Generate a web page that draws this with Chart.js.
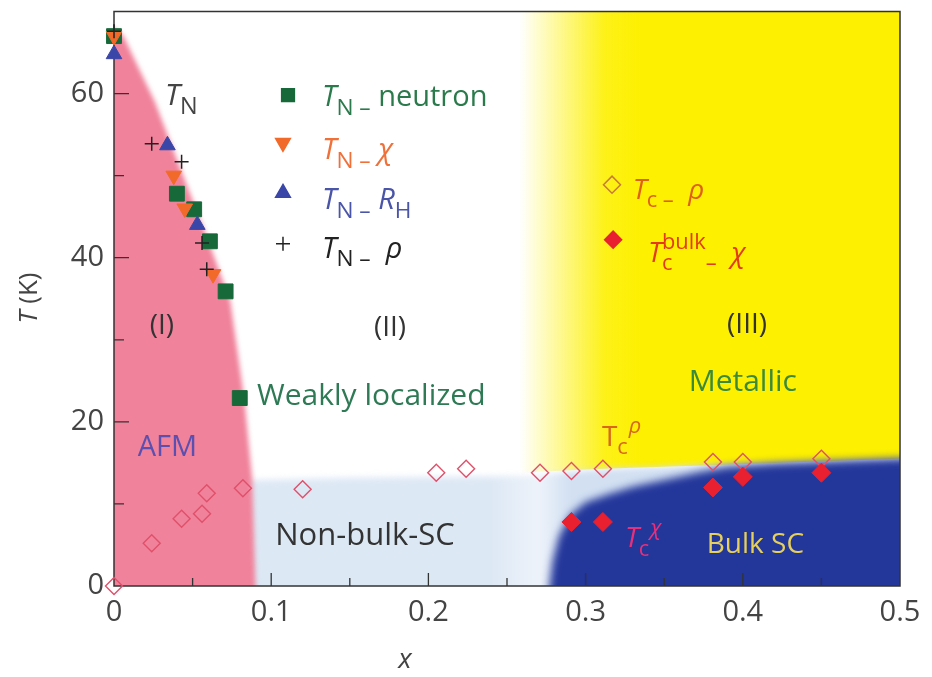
<!DOCTYPE html>
<html>
<head>
<meta charset="utf-8">
<script src="https://cdn.jsdelivr.net/npm/chart.js@4.4.1/dist/chart.umd.min.js"></script>
<style>
  html, body { margin: 0; padding: 0; background: #fff; }
  canvas { display: block; }
</style>
</head>
<body>
<canvas id="phase" width="932" height="677"></canvas>
<script>
// axis tick labels
const xTickLabels = [0, 0.1, 0.2, 0.3, 0.4, 0.5];
const yTickLabels = [0, 20, 40, 60];

// T_N - neutron (green squares)
const neutronX = [0, 0.04, 0.051, 0.061, 0.071, 0.08];
const neutronT = [67, 47.8, 45.9, 42, 35.9, 22.9];
// T_N - chi (orange down triangles)
const chiX = [0, 0.038, 0.045, 0.063];
const chiT = [67, 50, 46, 38];
// T_N - R_H (blue triangles)
const hallX = [0, 0.034, 0.053];
const hallT = [64.8, 53.7, 44];
// T_N - rho (black crosses)
const rhoNX = [0, 0.024, 0.043, 0.056, 0.059];
const rhoNT = [67.6, 53.9, 51.7, 41.8, 38.6];
// Tc - rho (open diamonds)
const tcRhoX = [0, 0.024, 0.043, 0.056, 0.059, 0.082, 0.12, 0.205, 0.224, 0.271, 0.291, 0.311, 0.381, 0.4, 0.45];
const tcRhoT = [0, 5.2, 8.2, 8.8, 11.3, 11.9, 11.8, 13.8, 14.3, 13.8, 14, 14.3, 15.1, 15.1, 15.5];
// Tc bulk - chi (filled diamonds)
const tcBulkX = [0.291, 0.311, 0.381, 0.4, 0.45];
const tcBulkT = [7.8, 7.8, 12, 13.3, 13.8];

// phase boundaries
const afmEdgeX = [0, 0.006, 0.016, 0.026, 0.038, 0.05, 0.062, 0.074, 0.083, 0.088, 0.09];
const afmEdgeT = [68, 67, 63, 59, 53, 47, 41, 34.7, 22.6, 12.9, 0];
const nonBulkEdgeX = [0.085, 0.15, 0.26, 0.31, 0.38, 0.5];
const nonBulkEdgeT = [12.9, 13.2, 13.4, 14.2, 14.7, 15.3];
const bulkEdgeX = [0.277, 0.279, 0.283, 0.29, 0.3, 0.315, 0.33, 0.352, 0.373, 0.39, 0.42, 0.46, 0.5];
const bulkEdgeT = [0, 3, 6, 8.6, 10.2, 11.2, 12.1, 13, 13.9, 14.5, 14.9, 15.2, 15.5];
const metalEdgeX = [0.258, 0.3, 0.33, 0.38, 0.42, 0.5];
const metalEdgeT = [13.8, 14.2, 14.4, 14.7, 15, 15.5];

const FONT = '"Open Sans", "DejaVu Sans", sans-serif';
const pts = (xs, ts) => xs.map((v, i) => ({ x: v, y: ts[i] }));

// text pieces: s = string, i = italic, sub / sup, k = keep x (no advance)
const notes = [
  { x: 0.0325, t: 58.6, c: '#444', f: 30, p: [{ s: 'T', i: 1 }, { s: 'N', sub: 1 }] },
  { x: 0.1323, t: 58.5, c: '#2b7a4b', f: 29, p: [{ s: 'T', i: 1 }, { s: 'N \u2013', sub: 1 }, { s: ' neutron' }] },
  { x: 0.1323, t: 52.0, c: '#f0703a', f: 29, p: [{ s: 'T', i: 1 }, { s: 'N \u2013', sub: 1 }, { s: ' \u03c7', i: 1 }] },
  { x: 0.1323, t: 45.9, c: '#4a55a8', f: 29, p: [{ s: 'T', i: 1 }, { s: 'N \u2013', sub: 1 }, { s: ' R', i: 1 }, { s: 'H', sub: 1 }] },
  { x: 0.1323, t: 40.0, c: '#222', f: 29, p: [{ s: 'T', i: 1 }, { s: 'N \u2013', sub: 1 }, { s: '  \u03c1', i: 1 }] },
  { x: 0.330, t: 47.2, c: '#e0601a', f: 28, p: [{ s: 'T', i: 1 }, { s: 'c \u2013', sub: 1 }, { s: '  \u03c1', i: 1 }] },
  { x: 0.3397, t: 39.5, c: '#e33a1a', f: 28, p: [{ s: 'T', i: 1 }, { s: 'c', sub: 1, k: 1 }, { s: 'bulk', sup: 1 }, { s: '\u2013', sub: 1 }, { s: '  \u03c7', i: 1 }] },
  { x: 0.3104, t: 17.1, c: '#d9661a', f: 28, p: [{ s: 'T' }, { s: 'c', sub: 1, k: 1 }, { s: '  \u03c1', i: 1, sup: 1 }] },
  { x: 0.325, t: 4.7, c: '#e8307a', f: 28, p: [{ s: 'T', i: 1 }, { s: 'c', sub: 1, k: 1 }, { s: '  \u03c7', i: 1, sup: 1 }] },
  { x: 0.0305, t: 30.7, c: '#333', f: 28, a: 'center', p: [{ s: '(I)' }] },
  { x: 0.1756, t: 30.5, c: '#333', f: 28, a: 'center', p: [{ s: '(II)' }] },
  { x: 0.4027, t: 30.8, c: '#333', f: 28, a: 'center', p: [{ s: '(III)' }] },
  { x: 0.400, t: 23.8, c: '#3a8a3a', f: 30, a: 'center', p: [{ s: 'Metallic' }] },
  { x: 0.091, t: 22.1, c: '#2e7a55', f: 30, p: [{ s: 'Weakly localized' }] },
  { x: 0.034, t: 15.9, c: '#5b50b0', f: 29, a: 'center', p: [{ s: 'AFM' }] },
  { x: 0.1597, t: 5.0, c: '#333', f: 31, a: 'center', p: [{ s: 'Non-bulk-SC' }] },
  { x: 0.408, t: 4.0, c: '#e6cf5a', f: 28, a: 'center', p: [{ s: 'Bulk SC' }] },
];

// in-plot legend markers: [x, T, style, color, filled, rotation]
const keyMarks = [
  [0.1107, 59.8, 'rect', '#17693a', true, 0],
  [0.1075, 54.0, 'triangle', '#f26a2a', true, 180],
  [0.1075, 47.9, 'triangle', '#3a46a8', true, 0],
  [0.1075, 41.7, 'cross', '#222', false, 0],
  [0.3168, 48.9, 'rectRot', '#c87a3a', false, 0],
  [0.3175, 42.2, 'rectRot', '#e82030', true, 0],
];

const font = (f, it) => `${it ? 'italic ' : ''}${f}px ${FONT}`;

const drawNote = (ctx, px, py, n) => {
  const pieces = n.p.map((q) => {
    const size = q.sub || q.sup ? n.f * 0.78 : n.f;
    ctx.font = font(size, q.i);
    return { ...q, size, w: ctx.measureText(q.s).width };
  });
  let cx = px;
  if (n.a === 'center') {
    cx -= pieces.reduce((s, q) => s + (q.k ? 0 : q.w), 0) / 2;
  }
  ctx.fillStyle = n.c;
  ctx.textBaseline = 'alphabetic';
  ctx.textAlign = 'left';
  pieces.forEach((q) => {
    const dy = q.sub ? n.f * 0.3 : q.sup ? -n.f * 0.45 : 0;
    ctx.font = font(q.size, q.i);
    ctx.fillText(q.s, cx, py + dy);
    if (!q.k) cx += q.w;
  });
};

// continue the current path along a boundary
const tracePoly = (ctx, x, y, xs, ts) => {
  xs.forEach((v, i) => ctx.lineTo(x.getPixelForValue(v), y.getPixelForValue(ts[i])));
};

const regions = {
  id: 'regions',
  beforeDraw(chart) {
    const { ctx, chartArea: a, scales: { x, y } } = chart;
    const X = (v) => x.getPixelForValue(v);
    const Y = (v) => y.getPixelForValue(v);
    ctx.save();
    ctx.beginPath();
    ctx.rect(a.left, a.top, a.width, a.height);
    ctx.clip();

    // metallic (yellow) with soft left edge
    const g = ctx.createLinearGradient(X(0.258), 0, X(0.335), 0);
    g.addColorStop(0, 'rgba(253,240,0,0)');
    g.addColorStop(0.35, 'rgba(253,240,0,0.45)');
    g.addColorStop(0.7, 'rgba(253,240,0,0.9)');
    g.addColorStop(1, 'rgb(253,240,0)');
    ctx.fillStyle = g;
    ctx.beginPath();
    ctx.moveTo(X(0.258), a.top);
    tracePoly(ctx, x, y, metalEdgeX, metalEdgeT);
    ctx.lineTo(X(0.5), a.top);
    ctx.closePath();
    ctx.fill();

    // non-bulk SC (light blue)
    ctx.filter = 'blur(3px)';
    const lb = ctx.createLinearGradient(X(0.24), 0, X(0.29), 0);
    lb.addColorStop(0, '#dde8f5');
    lb.addColorStop(0.6, '#eef3fa');
    lb.addColorStop(1, '#d2e0f2');
    ctx.fillStyle = lb;
    ctx.beginPath();
    ctx.moveTo(X(0.085), Y(-2));
    tracePoly(ctx, x, y, nonBulkEdgeX, nonBulkEdgeT);
    ctx.lineTo(X(0.52), Y(15.3));
    ctx.lineTo(X(0.52), Y(-2));
    ctx.closePath();
    ctx.fill();

    // bulk SC (dark blue)
    ctx.filter = 'blur(4px)';
    ctx.fillStyle = '#23369a';
    ctx.beginPath();
    ctx.moveTo(X(0.277), Y(-3));
    tracePoly(ctx, x, y, bulkEdgeX, bulkEdgeT);
    ctx.lineTo(X(0.53), Y(15.5));
    ctx.lineTo(X(0.53), Y(-3));
    ctx.closePath();
    ctx.fill();

    // AFM (pink)
    ctx.filter = 'blur(2.5px)';
    ctx.fillStyle = '#f0829b';
    ctx.beginPath();
    ctx.moveTo(X(-0.02), Y(68));
    tracePoly(ctx, x, y, afmEdgeX, afmEdgeT);
    ctx.lineTo(X(0.09), Y(-3));
    ctx.lineTo(X(-0.02), Y(-3));
    ctx.closePath();
    ctx.fill();
    ctx.filter = 'none';
    ctx.restore();
  },
  beforeDatasetsDraw(chart) {
    const { ctx, chartArea: a, scales: { x, y } } = chart;
    ctx.save();
    ctx.strokeStyle = '#333';
    ctx.lineWidth = 1.5;
    ctx.strokeRect(a.left, a.top, a.width, a.height);
    // inward ticks
    ctx.lineWidth = 1.3;
    ctx.beginPath();
    for (let v = 10; v < 70; v += 10) {
      const py = y.getPixelForValue(v);
      ctx.moveTo(a.left, py);
      ctx.lineTo(a.left + (v % 20 === 0 ? 15 : 10), py);
    }
    for (let k = 1; k < 10; k++) {
      const px = x.getPixelForValue(k * 0.05);
      ctx.moveTo(px, a.bottom);
      ctx.lineTo(px, a.bottom - (k % 2 === 0 ? 13 : 8));
    }
    ctx.stroke();
    ctx.restore();
  },
  afterDatasetsDraw(chart) {
    const { ctx, scales: { x, y } } = chart;
    ctx.save();
    keyMarks.forEach(([mx, mt, style, color, filled, rot]) => {
      ctx.fillStyle = filled ? color : 'rgba(0,0,0,0)';
      ctx.strokeStyle = color;
      ctx.lineWidth = 1.5;
      const r = style === 'rect' ? 9 : style === 'cross' ? 7 : 8.5;
      Chart.helpers.drawPoint(ctx, { pointStyle: style, rotation: rot, radius: r, borderWidth: 1.5 },
        x.getPixelForValue(mx), y.getPixelForValue(mt));
    });
    notes.forEach((n) => drawNote(ctx, x.getPixelForValue(n.x), y.getPixelForValue(n.t), n));

    // axis titles
    ctx.fillStyle = '#444';
    ctx.textBaseline = 'middle';
    ctx.textAlign = 'center';
    ctx.font = font(28, true);
    ctx.fillText('x', 405, 660);
    ctx.save();
    ctx.translate(30, 298);
    ctx.rotate(-Math.PI / 2);
    ctx.font = font(26, true);
    const tw = ctx.measureText('T').width;
    ctx.font = font(26, false);
    const kw = ctx.measureText(' (K)').width;
    ctx.textAlign = 'left';
    ctx.font = font(26, true);
    ctx.fillText('T', -(tw + kw) / 2, 0);
    ctx.font = font(26, false);
    ctx.fillText(' (K)', -(tw + kw) / 2 + tw, 0);
    ctx.restore();
    ctx.restore();
  },
};

const tickFont = { family: FONT, size: 29 };

const config = {
  type: 'scatter',
  data: {
    datasets: [
      { label: 'TN - rho', data: pts(rhoNX, rhoNT), pointStyle: 'cross', pointRadius: 7, borderColor: '#222', borderWidth: 1.5, order: 0 },
      { label: 'TN - RH', data: pts(hallX, hallT), pointStyle: 'triangle', pointRadius: 9, backgroundColor: '#3a46a8', borderColor: '#3a46a8', borderWidth: 1, order: 1 },
      { label: 'TN - chi', data: pts(chiX, chiT), pointStyle: 'triangle', rotation: 180, pointRadius: 9, backgroundColor: '#f26a2a', borderColor: '#f26a2a', borderWidth: 1, order: 2 },
      { label: 'TN - neutron', data: pts(neutronX, neutronT), pointStyle: 'rect', pointRadius: 10.5, backgroundColor: '#17693a', borderColor: '#17693a', borderWidth: 1, order: 3 },
      { label: 'Tc bulk - chi', data: pts(tcBulkX, tcBulkT), pointStyle: 'rectRot', pointRadius: 9.5, backgroundColor: '#e82030', borderColor: '#e82030', borderWidth: 1, order: 4 },
      { label: 'Tc - rho', data: pts(tcRhoX, tcRhoT), pointStyle: 'rectRot', pointRadius: 8.5, backgroundColor: 'rgba(0,0,0,0)', borderColor: '#e0506a', borderWidth: 1.4, order: 5 },
    ],
  },
  options: {
    responsive: false,
    animation: false,
    devicePixelRatio: 1,
    layout: { padding: { left: 0, top: 9, right: 32, bottom: 0 } },
    elements: { point: { hoverRadius: 9 } },
    datasets: { scatter: { clip: false } },
    plugins: { legend: { display: false }, tooltip: { enabled: false } },
    scales: {
      x: {
        type: 'linear', min: 0, max: 0.5,
        afterBuildTicks: (s) => { s.ticks = xTickLabels.map((v) => ({ value: v })); },
        afterFit: (s) => { s.height = 91; s.paddingLeft = 0; s.paddingRight = 0; },
        ticks: { font: tickFont, color: '#444', padding: 9, maxRotation: 0,
          callback: (v) => (v === 0 ? '0' : v.toFixed(1)) },
        grid: { display: false, drawTicks: false },
        border: { display: false },
      },
      y: {
        type: 'linear', min: 0, max: 70,
        afterBuildTicks: (s) => { s.ticks = yTickLabels.map((v) => ({ value: v })); },
        afterFit: (s) => { s.width = 114; s.paddingTop = 0; s.paddingBottom = 0; },
        ticks: { font: tickFont, color: '#444', padding: 10 },
        grid: { display: false, drawTicks: false },
        border: { display: false },
      },
    },
  },
  plugins: [regions],
};

new Chart(document.getElementById('phase').getContext('2d'), config);
</script>
</body>
</html>
